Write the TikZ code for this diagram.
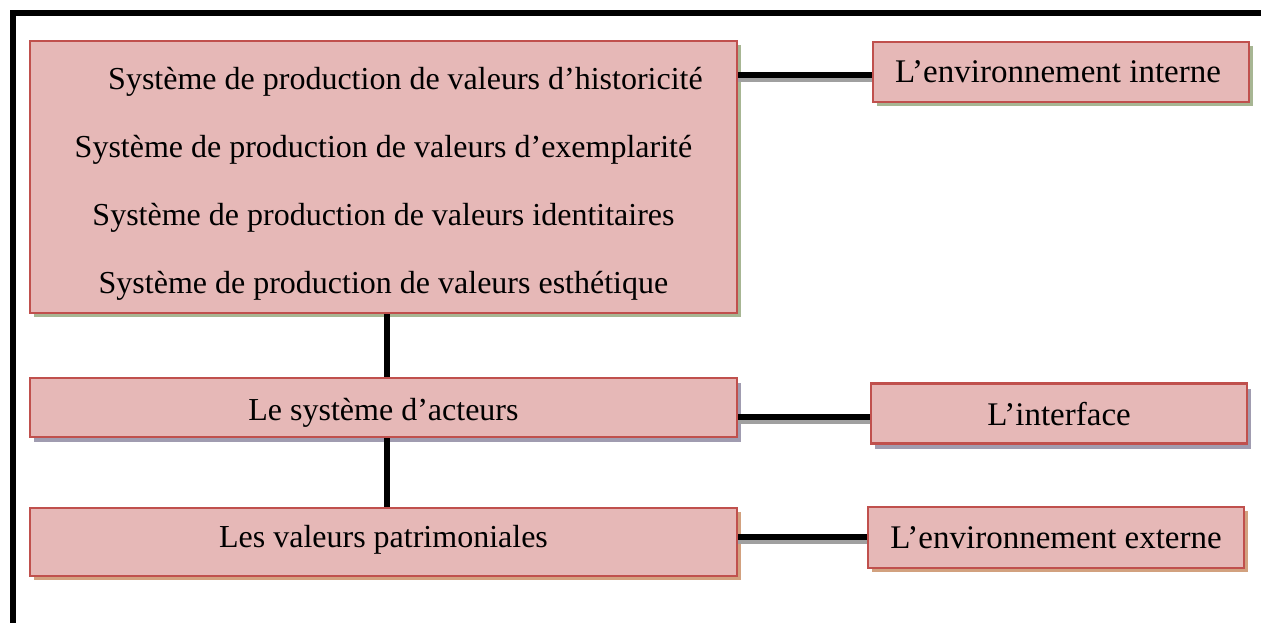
\documentclass[tikz,border=0pt]{standalone}
\usepackage{fontspec}
\setmainfont{Liberation Serif}
\usetikzlibrary{shadows,calc}
\definecolor{boxfill}{HTML}{E6B8B7}
\definecolor{boxline}{HTML}{C0504D}
\definecolor{shgreen}{HTML}{A7B693}
\definecolor{shpurple}{HTML}{A09CB0}
\definecolor{shtan}{HTML}{D2A17F}
\definecolor{lineshadow}{HTML}{A0A0A0}
\tikzset{
  pbox/.style={draw=boxline, fill=boxfill, line width=2.8pt, inner sep=0pt,
    font=\fontsize{32}{68}\selectfont},
  rbox/.style={pbox, font=\fontsize{33}{68}\selectfont},
  shg/.style={drop shadow={shadow xshift=4pt, shadow yshift=-4pt, fill=shgreen, opacity=1}},
  shp/.style={drop shadow={shadow xshift=4pt, shadow yshift=-5pt, fill=shpurple, opacity=1}},
  sht/.style={drop shadow={shadow xshift=4pt, shadow yshift=-4pt, fill=shtan, opacity=1}},
  conn/.style={line width=6pt, black},
  connsh/.style={line width=6pt, lineshadow},
}
\begin{document}
\begin{tikzpicture}[x=1pt,y=-1pt]
\useasboundingbox (0,0) rectangle (1261,623);
% frame
\draw[line width=6pt] (12.5,623) -- (12.5,13) -- (1261,13);
% boxes
\node[pbox, shg, minimum width=707pt, minimum height=270pt] (big) at (383.5,177)
  {\raisebox{-1pt}[\height][\depth]{\begin{tabular}{@{}c@{}}
   \hspace*{44pt}Système de production de valeurs d’historicité\\
   Système de production de valeurs d’exemplarité\\
   Système de production de valeurs identitaires\\
   Système de production de valeurs esthétique\end{tabular}}};
\node[rbox, shg, minimum width=376pt, minimum height=60pt] (int) at (1061,72) {\hspace*{-6pt}L’environnement interne};
\node[pbox, shp, minimum width=707pt, minimum height=59pt] (act) at (383.5,407.5) {\raisebox{-5pt}[\height][\depth]{Le système d’acteurs}};
\node[rbox, shp, minimum width=376pt, minimum height=60pt] (ifc) at (1059,413.5) {\raisebox{-1pt}[\height][\depth]{L’interface}};
\node[pbox, sht, minimum width=707pt, minimum height=68pt] (pat) at (383.5,542) {\raisebox{2pt}[\height][\depth]{Les valeurs patrimoniales}};
\node[rbox, sht, minimum width=376pt, minimum height=61pt] (ext) at (1056,537.5) {L’environnement externe};
% connector shadows
\draw[connsh] ([yshift=-7pt]int.west) -- ([yshift=-7pt]int.west -| big.east);
\draw[connsh] ([yshift=-7pt]ifc.west) -- ([yshift=-7pt]ifc.west -| act.east);
\draw[connsh] ([yshift=-3.5pt]ext.west) -- ([yshift=-3.5pt]ext.west -| pat.east);
% connectors
\draw[conn] ([yshift=-3pt]int.west) -- ([yshift=-3pt]int.west -| big.east);
\draw[conn] ([yshift=-3pt]ifc.west) -- ([yshift=-3pt]ifc.west -| act.east);
\draw[conn] ([yshift=0.5pt]ext.west) -- ([yshift=0.5pt]ext.west -| pat.east);
\draw[conn] ([xshift=3.5pt]big.south) -- ([xshift=3.5pt]act.north);
\draw[conn] ([xshift=3.5pt]act.south) -- ([xshift=3.5pt]pat.north);
\end{tikzpicture}
\end{document}
